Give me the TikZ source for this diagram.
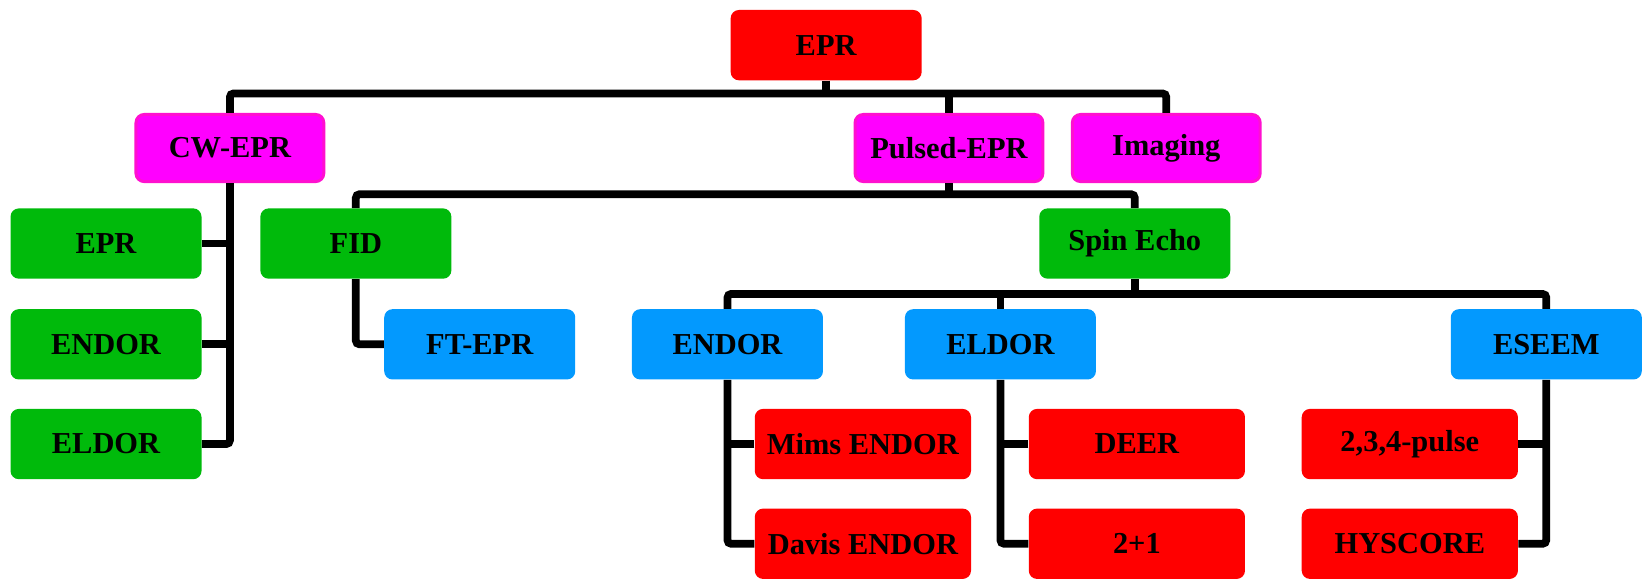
\documentclass[tikz,border=0pt]{standalone}
\usepackage{fontspec}
\setmainfont{Liberation Serif}
\usepackage{xcolor}
\usepackage{tikz}
\usetikzlibrary{positioning,calc}
\definecolor{RootRed}{HTML}{FF0000}
\definecolor{Magenta}{HTML}{FF00FF}
\definecolor{MagentaEdge}{HTML}{FF10D0}
\definecolor{LeafGreen}{HTML}{00BA0B}
\definecolor{SkyBlue}{HTML}{0399FE}
\tikzset{
  box/.style={rounded corners=4.5pt,minimum width=3.64cm,minimum height=1.34cm,inner sep=1pt,align=center,font=\fontsize{16.5}{18}\selectfont\bfseries},
  rootbox/.style={box,fill=RootRed},
  branch/.style={box,fill=Magenta,draw=MagentaEdge,line width=1.6pt,minimum width=3.58cm,minimum height=1.28cm},
  technique/.style={box,fill=LeafGreen},
  variant/.style={box,fill=SkyBlue},
  experiment/.style={box,fill=RootRed,minimum width=4.12cm},
  link/.style={draw=black,line width=4.2pt,rounded corners=2pt}
}
\begin{document}
\begin{tikzpicture}[x=0.02cm,y=-0.02cm]
  \useasboundingbox (0,0) rectangle (1568,552);
  \node[rootbox] (epr) at (787,43) {EPR};
  \node[branch] (cwepr) at (219,141) {CW-EPR};
  \node[branch] (pulsed) at (904,141) {Pulsed-EPR};
  \node[branch] (imaging) at (1111,141) {Imaging};
  \node[technique] (cwplain) at (101,232) {EPR};
  \node[technique] (cwendor) at (101,328) {ENDOR};
  \node[technique] (cweldor) at (101,423) {ELDOR};
  \node[technique] (fid) at (339,232) {FID};
  \node[technique] (spinecho) at (1081,232) {Spin Echo};
  \node[variant] (ftepr) at (457,328) {FT-EPR};
  \node[variant] (endor) at (693,328) {ENDOR};
  \node[variant] (eldor) at (953,328) {ELDOR};
  \node[variant] (eseem) at (1473,328) {ESEEM};
  \node[experiment] (mims) at (822,423) {Mims ENDOR};
  \node[experiment] (davis) at (822,518) {Davis ENDOR};
  \node[experiment] (deer) at (1083,423) {DEER};
  \node[experiment] (twoplus) at (1083,518) {2+1};
  \node[experiment] (pulses) at (1343,423) {2,3,4-pulse};
  \node[experiment] (hyscore) at (1343,518) {HYSCORE};
  \coordinate (topbus) at (787,89);
  \coordinate (pulsebus) at (904,185);
  \coordinate (echobus) at (1081,280);
  \draw[link] (epr.south) -- (topbus);
  \draw[link] (cwepr.north) |- (topbus) -| (imaging.north);
  \draw[link] (pulsed.north) -- (pulsed.north |- topbus);
  \draw[link] (cwepr.south) |- (cweldor.east);
  \draw[link] (cwplain.east) -- (cwplain.east -| cwepr.south);
  \draw[link] (cwendor.east) -- (cwendor.east -| cwepr.south);
  \draw[link] (pulsed.south) -- (pulsebus);
  \draw[link] (fid.north) |- (pulsebus) -| (spinecho.north);
  \draw[link] (fid.south) |- (ftepr.west);
  \draw[link] (spinecho.south) -- (echobus);
  \draw[link] (endor.north) |- (echobus) -| (eseem.north);
  \draw[link] (eldor.north) -- (eldor.north |- echobus);
  \draw[link] (endor.south) |- (davis.west);
  \draw[link] (mims.west) -- (mims.west -| endor.south);
  \draw[link] (eldor.south) |- (twoplus.west);
  \draw[link] (deer.west) -- (deer.west -| eldor.south);
  \draw[link] (eseem.south) |- (hyscore.east);
  \draw[link] (pulses.east) -- (pulses.east -| eseem.south);
\end{tikzpicture}
\end{document}
